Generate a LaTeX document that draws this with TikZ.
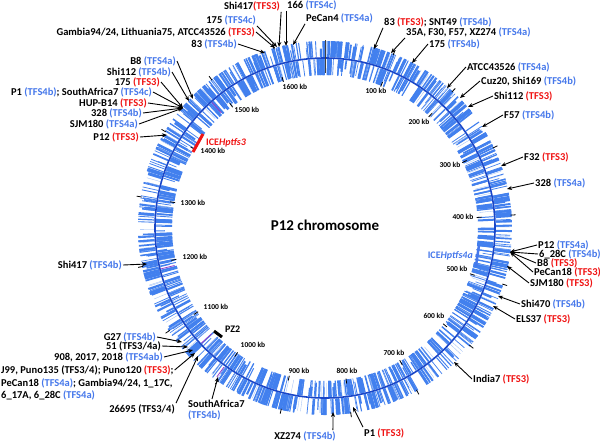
\documentclass[tikz,border=0pt]{standalone}
\usepackage{fontspec}
\setmainfont{Carlito}
\usetikzlibrary{arrows.meta}
\definecolor{tfsblue}{RGB}{70,120,235}
\definecolor{tfsred}{RGB}{240,20,20}
\definecolor{barblue}{RGB}{66,128,238}
\definecolor{barlight}{RGB}{150,185,245}
\definecolor{ringdark}{RGB}{25,70,200}
\definecolor{barpurple}{RGB}{150,60,200}
\newcommand\tfb[1]{\textcolor{tfsblue}{#1}}
\newcommand\tfr[1]{\textcolor{tfsred}{#1}}
\begin{document}
\begin{tikzpicture}[x=1pt,y=-1pt,
  lbl/.style={font=\fontsize{10.5}{11}\selectfont\bfseries, inner sep=1pt},
  kb/.style={font=\fontsize{7.5}{8}\selectfont\bfseries, inner sep=0pt},
  arr/.style={-{Stealth[length=5pt,width=4pt]}, line width=0.9pt},
  tick/.style={line width=0.8pt, black}]
\path[use as bounding box, fill=white] (0,0) rectangle (600,442);

% ---- feature bars (outer strand) ----
\pgfmathsetseed{4242}
\foreach \i in {1,...,600}{
  \pgfmathsetmacro\a{rnd*360}
  \pgfmathsetmacro\w{0.6+3.4*rnd*rnd}
  \pgfmathsetmacro\l{rnd<0.75 ? 16 : 8+8*rnd}
  \draw[barblue,line width=\w pt] ({325+171*sin(\a)},{228-171*cos(\a)}) -- ({325+(171+\l)*sin(\a)},{228-(171+\l)*cos(\a)});
}
% ---- feature bars (inner strand) ----
\foreach \i in {1,...,600}{
  \pgfmathsetmacro\a{rnd*360}
  \pgfmathsetmacro\w{0.6+3.4*rnd*rnd}
  \pgfmathsetmacro\l{rnd<0.75 ? 16 : 8+8*rnd}
  \draw[barblue,line width=\w pt] ({325+169*sin(\a)},{228-169*cos(\a)}) -- ({325+(169-\l)*sin(\a)},{228-(169-\l)*cos(\a)});
}
% thin light lines
\foreach \i in {1,...,160}{
  \pgfmathsetmacro\a{rnd*360}
  \pgfmathsetmacro\s{rnd<0.5 ? 1 : -1}
  \draw[barlight,line width=0.3pt] ({325+170*sin(\a)},{228-170*cos(\a)}) -- ({325+(170+15*\s)*sin(\a)},{228-(170+15*\s)*cos(\a)});
}
% purple marks
\foreach \a/\ra/\rb in {318/155/169, 227/155/169, 256/155/169, 216/172/184}{
  \draw[barpurple,line width=0.8pt] ({325+\ra*sin(\a)},{228-\ra*cos(\a)}) -- ({325+\rb*sin(\a)},{228-\rb*cos(\a)});
}
% dark ring line
\draw[ringdark,line width=1.6pt] (325,228) circle[radius=170];
% zero line
\draw[black!75,line width=1pt] (325,40) -- (325,73);
% kb ticks
\foreach \k in {1,...,16}{
  \pgfmathsetmacro\a{\k*100/1673.8*360}
  \draw[tick] ({325+152*sin(\a)},{228-152*cos(\a)}) -- ({325+157*sin(\a)},{228-157*cos(\a)});
  \draw[tick] ({325+186*sin(\a)},{228-186*cos(\a)}) -- ({325+191*sin(\a)},{228-191*cos(\a)});
}
% kb labels
\node[kb] (k100) at (376,91) {100 kb};
\node[kb] (k200) at (419,122) {200 kb};
\node[kb] (k300) at (450,165) {300 kb};
\node[kb] (k400) at (463,217) {400 kb};
\node[kb] (k500) at (457,269) {500 kb};
\node[kb] (k600) at (434,316) {600 kb};
\node[kb] (k700) at (394,353) {700 kb};
\node[kb] (k800) at (347,371) {800 kb};
\node[kb] (k900) at (299,371) {900 kb};
\node[kb] (k1000) at (253,345) {1000 kb};
\node[kb] (k1100) at (216,307) {1100 kb};
\node[kb] (k1200) at (195,257) {1200 kb};
\node[kb] (k1300) at (193,203) {1300 kb};
\node[kb] (k1400) at (213,151) {1400 kb};
\node[kb] (k1500) at (247,110) {1500 kb};
\node[kb] (k1600) at (295,87) {1600 kb};

% centre title
\node[font=\fontsize{15}{16}\selectfont\bfseries] (title) at (325,225) {P12 chromosome};

% islands
\draw[tfsred,line width=3pt] (203,134) -- (193,152);
\node[lbl,anchor=west,text=tfsred,font=\fontsize{10}{11}\selectfont\bfseries] (ice3) at (205,143) {ICE\textit{Hptfs3}};
\draw[tfsblue,line width=2.5pt] (479,245) -- (476,266);
\node[lbl,anchor=east,text=tfsblue,font=\fontsize{10}{11}\selectfont\bfseries] (ice4) at (474,256) {ICE\textit{Hptfs4a}};
\draw[black,line width=3pt] (214,331) -- (222,337);
\node[lbl,anchor=west,font=\fontsize{10}{11}\selectfont\bfseries] (pz2) at (224,329) {PZ2};

% ---- labels: top ----
\node[lbl] (shiA) at (252,6) {Shi417\tfr{(TFS3)}};
\node[lbl,anchor=west] (n166) at (286,5) {166 \tfb{(TFS4c)}};
\node[lbl,anchor=east] (n175c) at (257,20) {175 \tfb{(TFS4c)}};
\node[lbl,anchor=west] (pecan4) at (305,18) {PeCan4 \tfb{(TFS4a)}};
\node[lbl,anchor=east] (gamb) at (256,32) {Gambia94/24, Lithuania75, ATCC43526 \tfr{(TFS3)}};
\node[lbl,anchor=east] (n83b) at (238,44) {83 \tfb{(TFS4b)}};
\coordinate (tshiA) at (279,47);
\coordinate (t166) at (286,46);
\coordinate (t175c) at (277,47);
\coordinate (tpecan4) at (293,45);
\coordinate (tgamb) at (275,48);
\coordinate (t83b) at (265,53);
\draw[arr] (shiA.south east) -- (tshiA);
\draw[arr] (n166.south west) -- (t166);
\draw[arr] (n175c.south east) -- (t175c);
\draw[arr] (pecan4.south west) -- (tpecan4);
\draw[arr] (gamb.east) -- (tgamb);
\draw[arr] (n83b.east) -- (t83b);

% ---- labels: upper left ----
\node[lbl,anchor=east] (b8) at (177,61) {B8 \tfb{(TFS4a)}};
\node[lbl,anchor=east] (shi112) at (172,72) {Shi112 \tfb{(TFS4b)}};
\node[lbl,anchor=east] (n175) at (161,82) {175 \tfr{(TFS3)}};
\node[lbl,anchor=east] (p1) at (153,92) {P1 \tfb{(TFS4b)}; SouthAfrica7 \tfb{(TFS4c)}};
\node[lbl,anchor=east] (hup) at (148,103) {HUP-B14 \tfr{(TFS3)}};
\node[lbl,anchor=east] (n328) at (143,113) {328 \tfb{(TFS4b)}};
\node[lbl,anchor=east] (sjm) at (139,124) {SJM180 \tfb{(TFS4a)}};
\node[lbl,anchor=east] (p12) at (140,137) {P12 \tfr{(TFS3)}};
\coordinate (tb8) at (193,99);
\coordinate (tshi112) at (189,101);
\coordinate (tcl) at (183,108);
\coordinate (tp12) at (167,135);
\draw[arr] (b8.east) -- (tb8);
\draw[arr] (shi112.east) -- (tshi112);
\draw[arr] (n175.east) -- (tcl);
\draw[arr] (p1.east) -- (tcl);
\draw[arr] (hup.east) -- (tcl);
\draw[arr] (n328.east) -- (tcl);
\draw[arr] (sjm.east) -- (tcl);
\draw[arr] (p12.east) -- (tp12);

% ---- labels: upper right ----
\node[lbl,anchor=west] (n83s) at (383,22) {83 \tfr{(TFS3)}; SNT49 \tfb{(TFS4b)}};
\node[lbl,anchor=west] (n35a) at (405,32) {35A, F30, F57, XZ274 \tfb{(TFS4a)}};
\node[lbl,anchor=west] (n175b) at (428,44) {175 \tfb{(TFS4b)}};
\node[lbl,anchor=west] (atcc) at (466,67) {ATCC43526 \tfb{(TFS4a)}};
\node[lbl,anchor=west] (cuz) at (480,81) {Cuz20, Shi169 \tfb{(TFS4b)}};
\node[lbl,anchor=west] (shi112r) at (493,96) {Shi112 \tfr{(TFS3)}};
\node[lbl,anchor=west] (f57) at (503,115) {F57 \tfb{(TFS4b)}};
\node[lbl,anchor=west] (f32) at (523,157) {F32 \tfr{(TFS3)}};
\node[lbl,anchor=west] (r328) at (534,183) {328 \tfb{(TFS4a)}};
\coordinate (t83s) at (374,49);
\coordinate (t35a) at (391,53);
\coordinate (t175b) at (412,63);
\coordinate (tatcc) at (447,88);
\coordinate (tcuz) at (460,98);
\coordinate (tshi112r) at (468,107);
\coordinate (tf57) at (482,127);
\coordinate (tf32) at (501,166);
\coordinate (tr328) at (507,189);
\draw[arr] (n83s.south west) -- (t83s);
\draw[arr] (n35a.south west) -- (t35a);
\draw[arr] (n175b.west) -- (t175b);
\draw[arr] (atcc.west) -- (tatcc);
\draw[arr] (cuz.west) -- (tcuz);
\draw[arr] (shi112r.west) -- (tshi112r);
\draw[arr] (f57.west) -- (tf57);
\draw[arr] (f32.west) -- (tf32);
\draw[arr] (r328.west) -- (tr328);

% ---- labels: right ----
\node[lbl,anchor=west] (p12r) at (537,245) {P12 \tfb{(TFS4a)}};
\node[lbl,anchor=west] (c628) at (538,254) {6\_28C \tfb{(TFS4b)}};
\node[lbl,anchor=west] (b8r) at (536,263) {B8 \tfr{(TFS3)}};
\node[lbl,anchor=west] (pecan18) at (533,272) {PeCan18 \tfr{(TFS3)}};
\node[lbl,anchor=west] (sjmr) at (529,283) {SJM180 \tfr{(TFS3)}};
\node[lbl,anchor=west] (shi470) at (520,304) {Shi470 \tfb{(TFS4b)}};
\node[lbl,anchor=west] (els37) at (515,319) {ELS37 \tfr{(TFS3)}};
\node[lbl,anchor=west] (india7) at (472,379) {India7 \tfr{(TFS3)}};
\coordinate (tcr) at (510,252);
\coordinate (tsjmr) at (507,266);
\coordinate (tshi470) at (498,296);
\coordinate (tels37) at (493,306);
\coordinate (tindia7) at (454,362);
\draw[arr] (p12r.west) -- (tcr);
\draw[arr] (c628.west) -- (tcr);
\draw[arr] (b8r.west) -- (tcr);
\draw[arr] (pecan18.west) -- (tcr);
\draw[arr] (sjmr.west) -- (tsjmr);
\draw[arr] (shi470.west) -- (tshi470);
\draw[arr] (els37.west) -- (tels37);
\draw[arr] (india7.west) -- (tindia7);

% ---- labels: bottom ----
\node[lbl] (xz) at (305,436) {XZ274 \tfb{(TFS4b)}};
\node[lbl,anchor=west] (p1b) at (363,433) {P1 \tfr{(TFS3)}};
\node[lbl,anchor=north west,align=left] (sa7) at (187,399) {SouthAfrica7\\\tfb{(TFS4b)}};
\node[lbl,anchor=east] (n26695) at (176,409) {26695 (TFS3/4)};
\coordinate (txz) at (333,412);
\coordinate (tp1b) at (353,407);
\coordinate (tsa7) at (218,377);
\coordinate (t26695) at (198,356);
\draw[arr] ([xshift=-4pt]xz.north east) -- (txz);
\draw[arr] (p1b.north west) -- (tp1b);
\draw[arr] ([xshift=25pt]sa7.north west) -- (tsa7);
\draw[arr] (n26695.north east) -- (t26695);

% ---- labels: lower left ----
\node[lbl,anchor=east] (shi417b) at (123,265) {Shi417 \tfb{(TFS4b)}};
\node[lbl,anchor=east] (g27) at (157,337) {G27 \tfb{(TFS4b)}};
\node[lbl,anchor=east] (n51) at (162,346) {51 (TFS3/4a)};
\node[lbl,anchor=east] (n908) at (164,357) {908, 2017, 2018 \tfb{(TFS4ab)}};
\node[lbl,anchor=west] (j1) at (0,370) {J99, Puno135 (TFS3/4); Puno120 \tfr{(TFS3)};};
\node[lbl,anchor=west] (j2) at (0,383) {PeCan18 \tfb{(TFS4a)}; Gambia94/24, 1\_17C,};
\node[lbl,anchor=west] (j3) at (0,395) {6\_17A, 6\_28C \tfb{(TFS4a)}};
\coordinate (tshi417b) at (147,264);
\coordinate (tg27) at (182,342);
\coordinate (tn51) at (188,347);
\coordinate (tn908) at (193,350);
\coordinate (tj) at (195,353);
\draw[arr] (shi417b.east) -- (tshi417b);
\draw[arr] (g27.east) -- (tg27);
\draw[arr] (n51.east) -- (tn51);
\draw[arr] (n908.east) -- (tn908);
\draw[arr] (j1.east) -- (tj);
\end{tikzpicture}
\end{document}
